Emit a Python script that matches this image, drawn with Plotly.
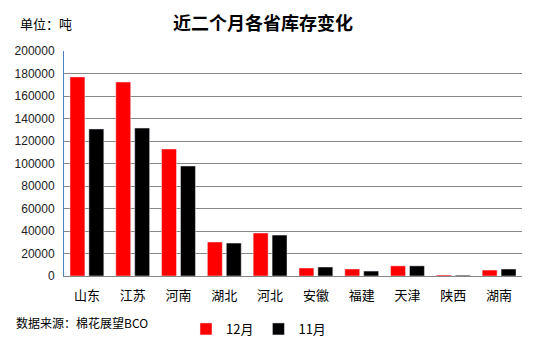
import plotly.graph_objects as go

provinces = ["山东", "江苏", "河南", "湖北", "河北", "安徽", "福建", "天津", "陕西", "湖南"]
dec_values = [177000, 172400, 112900, 30200, 38200, 7100, 6200, 9000, 900, 5300]
nov_values = [130700, 131500, 97800, 29300, 36400, 8000, 4400, 9000, 700, 6200]
y_ticks = [0, 20000, 40000, 60000, 80000, 100000, 120000, 140000, 160000, 180000, 200000]

FONT = "Noto Sans CJK SC, Liberation Sans, sans-serif"

fig = go.Figure()
fig.add_trace(go.Bar(x=provinces, y=dec_values, name="12月", marker_color="#FF0000"))
fig.add_trace(go.Bar(x=provinces, y=nov_values, name="11月", marker_color="#000000"))

L, R, T, B = 64, 14, 51, 69
W, H = 536, 345
pw = W - L - R
ph = H - T - B

def px_x(x):
    return (x - L) / pw

def px_y(y):
    return (H - B - y) / ph

fig.update_layout(
    width=W, height=H,
    margin=dict(l=L, r=R, t=T, b=B, autoexpand=False),
    paper_bgcolor="white", plot_bgcolor="white",
    barmode="group", bargap=0.174, bargroupgap=0.21,
    font=dict(family=FONT, size=12, color="#000000"),
    showlegend=True,
    legend=dict(orientation="h", x=px_x(186), xanchor="left", y=px_y(314), yanchor="top",
                font=dict(size=13, family=FONT), itemwidth=30, tracegroupgap=0,
                bgcolor="rgba(0,0,0,0)"),
    annotations=[
        dict(text="<b>近二个月各省库存变化</b>", x=px_x(263), y=px_y(22), xanchor="center",
             yanchor="middle", xref="paper", yref="paper", showarrow=False,
             font=dict(size=18, family=FONT)),
        dict(text="单位：吨", x=px_x(18), y=px_y(24), xanchor="left", yanchor="middle",
             xref="paper", yref="paper", showarrow=False, font=dict(size=13, family=FONT)),
        dict(text="数据来源：棉花展望BCO", x=px_x(14), y=px_y(322), xanchor="left",
             yanchor="middle", xref="paper", yref="paper", showarrow=False,
             font=dict(size=12, family=FONT)),
    ],
)

fig.update_yaxes(range=[0, 200000], tickvals=y_ticks, ticktext=[str(v) for v in y_ticks],
                 showgrid=True, gridcolor="#868686", gridwidth=1,
                 showline=True, linecolor="#4F81BD", linewidth=1,
                 zeroline=False, ticks="", ticklabelstandoff=6,
                 tickfont=dict(size=12, family="Liberation Sans, sans-serif", color="#222222"))
fig.update_xaxes(showline=True, linecolor="#868686", linewidth=1, ticks="",
                 ticklabelstandoff=7, tickfont=dict(size=13, family=FONT))

fig.write_html("out.html")
